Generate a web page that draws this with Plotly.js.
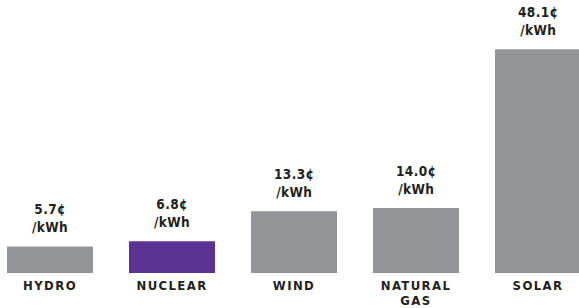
<!DOCTYPE html>
<html><head><meta charset="utf-8">
<script src="https://cdn.plot.ly/plotly-3.0.1.min.js"></script>
<style>
html,body{margin:0;padding:0;background:#fff;}
#chart{width:579px;height:308px;}
.xtick text{letter-spacing:1.4px;}
.annotation-text{letter-spacing:0.4px;}
</style>
</head><body>
<div id="chart"></div>
<script>
const categories = ["HYDRO", "NUCLEAR", "WIND", "NATURAL<br>GAS", "SOLAR"];
const costs = [5.7, 6.8, 13.3, 14.0, 48.1];
const valueLabels = ["5.7¢", "6.8¢", "13.3¢", "14.0¢", "48.1¢"];
const unitLabel = "/kWh";
const barColors = ["#939598", "#5c3393", "#939598", "#939598", "#939598"];

const font = "'DejaVu Sans Condensed', 'DejaVu Sans', sans-serif";
const idx = categories.map((c, i) => i);

const trace = {
  type: "bar",
  x: idx,
  y: costs,
  width: 0.705,
  marker: {color: barColors},
  hoverinfo: "none"
};

const annotations = idx.map(i => ({
  x: i, y: costs[i], xref: "x", yref: "y",
  text: "<b>" + valueLabels[i] + "<br>" + unitLabel + "</b>",
  showarrow: false, yanchor: "bottom", yshift: 9,
  font: {family: font, size: 13.5, color: "#231f20"}
}));

const layout = {
  width: 579, height: 308,
  margin: {l: 0, r: 0, t: 0, b: 35},
  paper_bgcolor: "#fff", plot_bgcolor: "#fff",
  showlegend: false,
  xaxis: {
    range: [-0.41, 4.336],
    tickvals: idx,
    ticktext: categories.map(c => "<b>" + c + "</b>"),
    showgrid: false, zeroline: false, showline: false, ticks: "",
    ticklabelstandoff: 3,
    tickfont: {family: font, size: 13, color: "#231f20"}
  },
  yaxis: {
    range: [0, 58.7],
    visible: false, showgrid: false, zeroline: false
  },
  annotations: annotations
};

function tighten() {
  document.querySelectorAll(".xtick text tspan.line").forEach(t => {
    if (t.getAttribute("dy") === "1.3em") t.setAttribute("dy", "1.12em");
  });
}
Plotly.newPlot("chart", [trace], layout, {displayModeBar: false, staticPlot: true}).then(tighten);
</script>
</body></html>
